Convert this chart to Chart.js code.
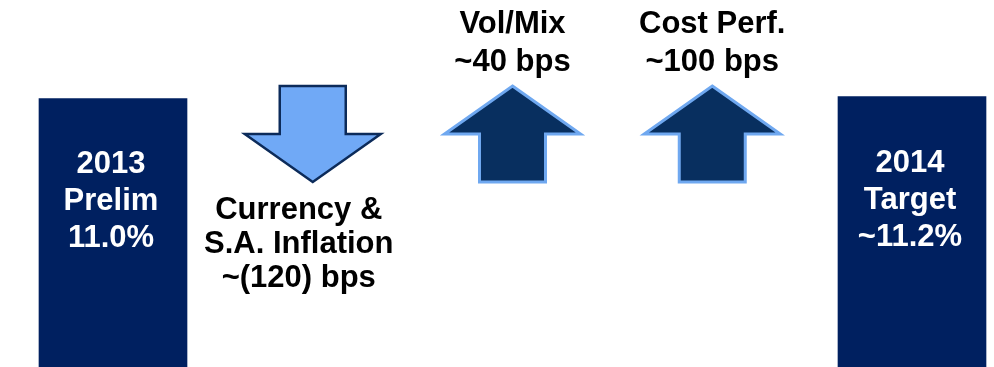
<!DOCTYPE html>
<html>
<head>
<meta charset="utf-8">
<script src="https://cdn.jsdelivr.net/npm/chart.js@4/dist/chart.umd.min.js"></script>
<style>
  html, body { margin: 0; padding: 0; background: #ffffff; }
  #wrap { width: 994px; height: 367px; }
</style>
</head>
<body>
<div id="wrap"><canvas id="bridge" width="994" height="367"></canvas></div>
<script>
// Operating margin bridge, 2013 -> 2014
const categories = ['2013 Prelim', 'Currency & S.A. Inflation', 'Vol/Mix', 'Cost Perf.', '2014 Target'];
const marginPct = [11.0, null, null, null, 11.2];          // margin level, %
const changeBps = [null, -120, 40, 100, null];             // margin driver, basis points
const valuePrefix = ['', '~', '~', '~', '~'];              // "~" marks approximate figures
const nameLines = [
  ['2013', 'Prelim'],
  ['Currency &', 'S.A. Inflation'],
  ['Vol/Mix'],
  ['Cost Perf.'],
  ['2014', 'Target']
];

// Styling
const NAVY = '#002060';
const DOWN_FILL = '#70A9F6';
const DOWN_EDGE = '#0C2B5A';
const UP_FILL = '#082F5F';
const UP_EDGE = '#6FA8F0';
const FONT = '"Liberation Sans", Arial, Helvetica, sans-serif';
const Y_MIN = -19, Y_MAX = 22;
const ARROW = { top: 86, height: 96, headLen: 48, headW: 136, shaftW: 66 };

function bpsText(v) {
  return v < 0 ? '(' + Math.abs(v) + ') bps' : v + ' bps';
}

function drawLines(ctx, lines, x, firstBaseline, lineH) {
  lines.forEach((t, k) => ctx.fillText(t, x, firstBaseline + k * lineH));
}

const bridgePlugin = {
  id: 'bridgeMarks',
  afterDatasetsDraw(chart) {
    const ctx = chart.ctx;
    const xs = chart.scales.x;
    const bars = chart.getDatasetMeta(0).data;
    ctx.save();
    ctx.textAlign = 'center';
    ctx.textBaseline = 'alphabetic';

    // level labels inside the bars
    ctx.fillStyle = '#ffffff';
    ctx.font = 'bold 31px ' + FONT;
    marginPct.forEach((v, i) => {
      if (v === null) return;
      const el = bars[i];
      const lines = nameLines[i].concat([valuePrefix[i] + v.toFixed(1) + '%']);
      drawLines(ctx, lines, el.x - 2, el.y + 75, 37);
    });

    // driver arrows with their labels
    changeBps.forEach((v, i) => {
      if (v === null) return;
      const cx = xs.getPixelForValue(i);
      const top = ARROW.top, bot = ARROW.top + ARROW.height;
      const hw = ARROW.headW / 2, sw = ARROW.shaftW / 2;
      ctx.beginPath();
      if (v < 0) {
        const hb = bot - ARROW.headLen;
        ctx.moveTo(cx - sw, top);
        ctx.lineTo(cx + sw, top);
        ctx.lineTo(cx + sw, hb);
        ctx.lineTo(cx + hw, hb);
        ctx.lineTo(cx, bot);
        ctx.lineTo(cx - hw, hb);
        ctx.lineTo(cx - sw, hb);
      } else {
        const hb = top + ARROW.headLen;
        ctx.moveTo(cx, top);
        ctx.lineTo(cx + hw, hb);
        ctx.lineTo(cx + sw, hb);
        ctx.lineTo(cx + sw, bot);
        ctx.lineTo(cx - sw, bot);
        ctx.lineTo(cx - sw, hb);
        ctx.lineTo(cx - hw, hb);
      }
      ctx.closePath();
      ctx.fillStyle = v < 0 ? DOWN_FILL : UP_FILL;
      ctx.fill();
      ctx.lineWidth = v < 0 ? 2.5 : 3;
      ctx.lineJoin = 'miter';
      ctx.strokeStyle = v < 0 ? DOWN_EDGE : UP_EDGE;
      ctx.stroke();

      const lines = nameLines[i].concat([valuePrefix[i] + bpsText(v)]);
      ctx.fillStyle = '#000000';
      ctx.font = 'bold 31px ' + FONT;
      if (v < 0) {
        drawLines(ctx, lines, cx - 14, bot + 37, 34);
      } else {
        const lh = 38;
        drawLines(ctx, lines, cx, top - 15 - (lines.length - 1) * lh, lh);
      }
    });
    ctx.restore();
  }
};

new Chart(document.getElementById('bridge'), {
  type: 'bar',
  data: {
    labels: categories,
    datasets: [{
      data: marginPct,
      base: Y_MIN,
      backgroundColor: NAVY,
      borderWidth: 0,
      barThickness: 148,
      clip: false
    }]
  },
  options: {
    responsive: false,
    animation: false,
    devicePixelRatio: 1,
    layout: { padding: { left: 113, right: 82, top: 0, bottom: 0 } },
    plugins: { legend: { display: false }, tooltip: { enabled: false } },
    scales: {
      x: { type: 'category', offset: false, display: false },
      y: { min: Y_MIN, max: Y_MAX, display: false }
    }
  },
  plugins: [bridgePlugin]
});
</script>
</body>
</html>
